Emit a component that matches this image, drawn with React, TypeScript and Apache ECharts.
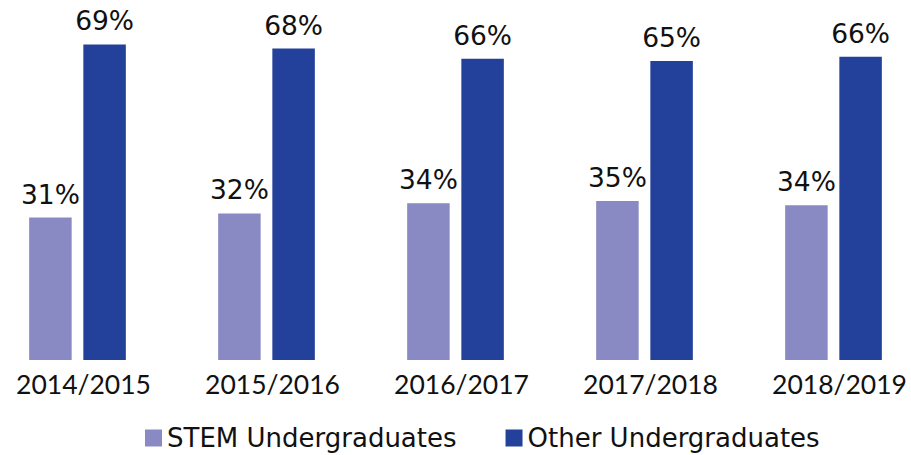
import React, { useEffect, useRef } from "react";
import * as echarts from "echarts";

const categories = ["2014/2015", "2015/2016", "2016/2017", "2017/2018", "2018/2019"];
const stemValues = [31.1, 32.0, 34.2, 34.7, 33.8];
const otherValues = [68.9, 68.0, 65.8, 65.3, 66.2];
const seriesNames = ["STEM Undergraduates", "Other Undergraduates"];
const colors = ["#8989c3", "#23419a"];

const LABEL_FONT = "DejaVu Sans";
const AXIS_FONT = "Lato";

export default function App() {
  const ref = useRef<HTMLDivElement>(null);
  useEffect(() => {
    if (!ref.current) return;
    const chart = echarts.init(ref.current, null, { renderer: "svg" });
    const label = {
      show: true,
      position: "top",
      distance: 10,
      color: "#111",
      fontFamily: LABEL_FONT,
      fontSize: 26.5,
      formatter: (p: any) => Math.round(p.value) + "%",
    };
    chart.setOption({
      animation: false,
      color: colors,
      grid: { left: 0, right: 0, top: 39.4, bottom: 95, containLabel: false },
      legend: {
        left: 157,
        top: 419,
        itemWidth: 17,
        itemHeight: 17,
        itemGap: 49,
        icon: "rect",
        textStyle: { fontFamily: LABEL_FONT, fontSize: 26, lineHeight: 28, color: "#111" },
        data: seriesNames,
      },
      xAxis: {
        type: "category",
        data: categories,
        axisLine: { show: false },
        axisTick: { show: false },
        axisLabel: {
          color: "#111",
          fontFamily: AXIS_FONT,
          fontSize: 26.5,
          margin: 10,
          padding: [0, 0, 0, 12],
        },
      },
      yAxis: {
        type: "value",
        min: 0,
        max: 70,
        show: false,
        splitLine: { show: false },
      },
      series: [
        {
          name: seriesNames[0],
          type: "bar",
          data: stemValues,
          barWidth: 42.5,
          barGap: "27.5%",
          label,
        },
        {
          name: seriesNames[1],
          type: "bar",
          data: otherValues,
          barWidth: 42.5,
          barGap: "27.5%",
          label,
        },
      ],
    });
    return () => chart.dispose();
  }, []);
  return (
    <div
      ref={ref}
      style={{ position: "fixed", left: -17, top: 0, width: 945, height: 455, background: "#fff" }}
    />
  );
}
